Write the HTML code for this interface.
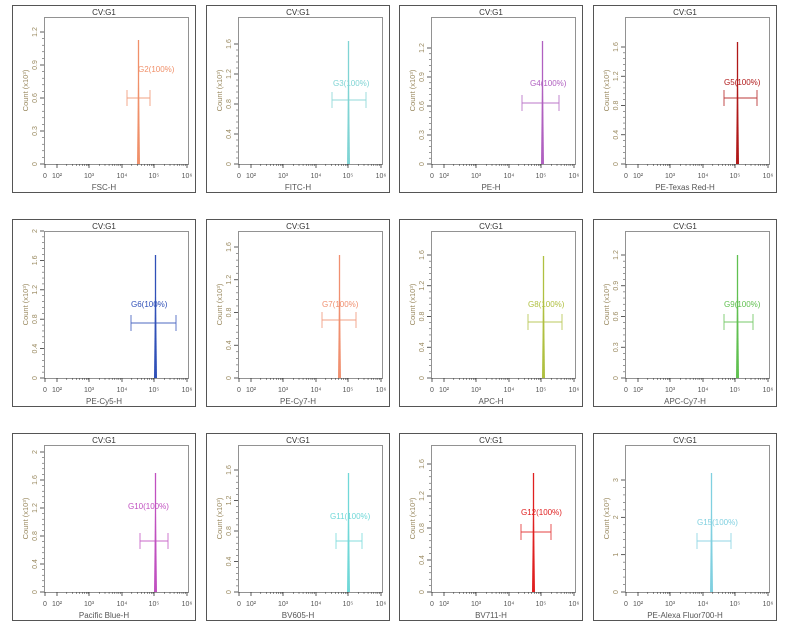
<!DOCTYPE html>
<html><head><meta charset="utf-8"><style>
html,body{margin:0;padding:0;background:#fff;}
svg{display:block;font-family:"Liberation Sans",sans-serif;}
</style></head><body>
<svg id="s" width="797" height="634" xmlns="http://www.w3.org/2000/svg"></svg>
<script>
const P=[
[0,0,138,40,'#f0906a','G2(100%)',138,72,98,127,150,['0','0.3','0.6','0.9','1.2'],32,'FSC-H'],
[1,0,348,41,'#7fd4d4','G3(100%)',333,86,100,332,366,['0','0.4','0.8','1.2','1.6'],44,'FITC-H'],
[2,0,542,41,'#b060c0','G4(100%)',530,86,103,522,559,['0','0.3','0.6','0.9','1.2'],48,'PE-H'],
[3,0,737,42,'#b01818','G5(100%)',724,85,98,724,757,['0','0.4','0.8','1.2','1.6'],47,'PE-Texas Red-H'],
[0,1,155,255,'#3050b8','G6(100%)',131,307,323,131,176,['0','0.4','0.8','1.2','1.6','2'],231,'PE-Cy5-H'],
[1,1,339,255,'#f09070','G7(100%)',322,307,320,322,356,['0','0.4','0.8','1.2','1.6'],247,'PE-Cy7-H'],
[2,1,543,256,'#b0c040','G8(100%)',528,307,322,528,562,['0','0.4','0.8','1.2','1.6'],255,'APC-H'],
[3,1,737,255,'#60c050','G9(100%)',724,307,322,724,753,['0','0.3','0.6','0.9','1.2'],255,'APC-Cy7-H'],
[0,2,155,473,'#c050c0','G10(100%)',128,509,541,140,168,['0','0.4','0.8','1.2','1.6','2'],452,'Pacific Blue-H'],
[1,2,348,473,'#70d8d8','G11(100%)',330,519,541,336,362,['0','0.4','0.8','1.2','1.6'],470,'BV605-H'],
[2,2,533,473,'#e02020','G12(100%)',521,515,532,521,551,['0','0.4','0.8','1.2','1.6'],464,'BV711-H'],
[3,2,711,473,'#80d0e0','G15(100%)',697,525,541,697,731,['0','1','2','3'],480,'PE-Alexa Fluor700-H']
];
let h='';
const colX=[12,206,399,593], rowY=[5,219,433];
const tc='#9a8a60';
P.forEach(p=>{
 const [c,r,px,top,col,lab,lx,ly,gy,g1,g2,ticks,tty,xl]=p;
 const bx=colX[c], by=rowY[r];
 const dx=bx-12, dy=by-5;
 h+=`<rect x="${bx}.5" y="${by}.5" width="183" height="187" fill="none" stroke="#555" stroke-width="1"/>`;
 const L=44+dx, T=17+dy, R=188+dx, B=164+dy;
 h+=`<rect x="${L}.5" y="${T}.5" width="${R-L}" height="${B-T}" fill="none" stroke="#777" stroke-width="0.8"/>`;
 h+=`<text x="${bx+92}" y="${by+10}" font-size="8" text-anchor="middle" fill="#333">CV:G1</text>`;
 const xs=[['0',45],['10²',57],['10³',89],['10⁴',122],['10⁵',154],['10⁶',187]];
 xs.forEach(([t,x])=>{h+=`<line x1="${x+dx}" y1="${B}" x2="${x+dx}" y2="${B+4}" stroke="#333" stroke-width="0.8"/><text x="${x+dx}" y="${B+14}" font-size="7" text-anchor="middle" fill="#555">${t}</text>`;});
 for(let d=0;d<4;d++){for(let k=2;k<10;k++){const x=57+d*32.5+32.5*Math.log10(k)+dx;h+=`<line x1="${x}" y1="${B}" x2="${x}" y2="${B+2}" stroke="#333" stroke-width="0.5"/>`;}}
 h+=`<text x="${bx+92}" y="${by+185}" font-size="8" text-anchor="middle" fill="#555">${xl}</text>`;
 const n=ticks.length-1, ty=tty;
 ticks.forEach((t,i)=>{const y=B-(B-ty)*i/n;h+=`<line x1="${L-4}" y1="${y}" x2="${L}" y2="${y}" stroke="#333" stroke-width="0.8"/><text transform="translate(${L-7},${y}) rotate(-90)" font-size="7" text-anchor="middle" fill="${tc}">${t}</text>`;
  if(i<n){for(let k=1;k<5;k++){const yy=y-(B-ty)/n*k/5;h+=`<line x1="${L-2}" y1="${yy}" x2="${L}" y2="${yy}" stroke="#333" stroke-width="0.5"/>`;}}});
 h+=`<text transform="translate(${L-16},${(T+B)/2}) rotate(-90)" font-size="7.5" text-anchor="middle" fill="${tc}">Count (x10³)</text>`;
 const X=px+0.5;
 h+=`<polygon points="${X-1.5},${B} ${X},${top} ${X+1.5},${B}" fill="${col}"/><line x1="${X}" y1="${top}" x2="${X}" y2="${B}" stroke="${col}" stroke-width="1.3"/>`;
 h+=`<g stroke="${col}" stroke-width="0.9" opacity="0.85"><line x1="${g1}" y1="${gy}" x2="${g2}" y2="${gy}"/><line x1="${g1}" y1="${gy-8}" x2="${g1}" y2="${gy+8}"/><line x1="${g2}" y1="${gy-8}" x2="${g2}" y2="${gy+8}"/></g>`;
 h+=`<text x="${lx}" y="${ly}" font-size="8" fill="${col}">${lab}</text>`;
});
document.getElementById('s').innerHTML=h;
</script>
</body></html>
